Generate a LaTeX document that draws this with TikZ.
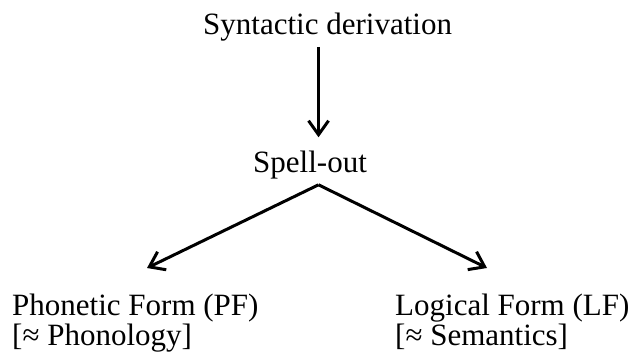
\documentclass[tikz,border=0pt]{standalone}
\usepackage{fontspec}
\setmainfont{Liberation Serif}
\usetikzlibrary{calc,arrows.meta}

\begin{document}
\begin{tikzpicture}[x=1pt,y=-1pt,
  term/.style={inner sep=0pt, anchor=base west, align=left, font=\fontsize{31}{30}\selectfont},
  arr/.style={line width=3pt, -{Straight Barb[length=14pt,width=20pt]}}]
  \useasboundingbox (0,0) rectangle (639,352);

  \node[term] (synt) at (203,35) {Syntactic derivation};
  \node[term] (spell) at (253,173) {Spell-out};
  \node[term] (pf) at (12,345) {Phonetic Form (PF)\\{[≈ Phonology]}};
  \node[term] (lf) at (395,345) {Logical Form (LF)\\{[≈ Semantics]}};

  % branching point and arrow ends
  \coordinate (split) at ($(spell.south)+(8.5,5)$);
  \coordinate (pfend) at (147,268);
  \coordinate (lfend) at (487,268);

  \draw[arr] ($(synt.south -| split)+(0,5)$) -- ($(spell.north -| split)+(0,-14)$);
  \draw[arr] (split) -- (pfend);
  \draw[arr] (split) -- (lfend);
\end{tikzpicture}
\end{document}
